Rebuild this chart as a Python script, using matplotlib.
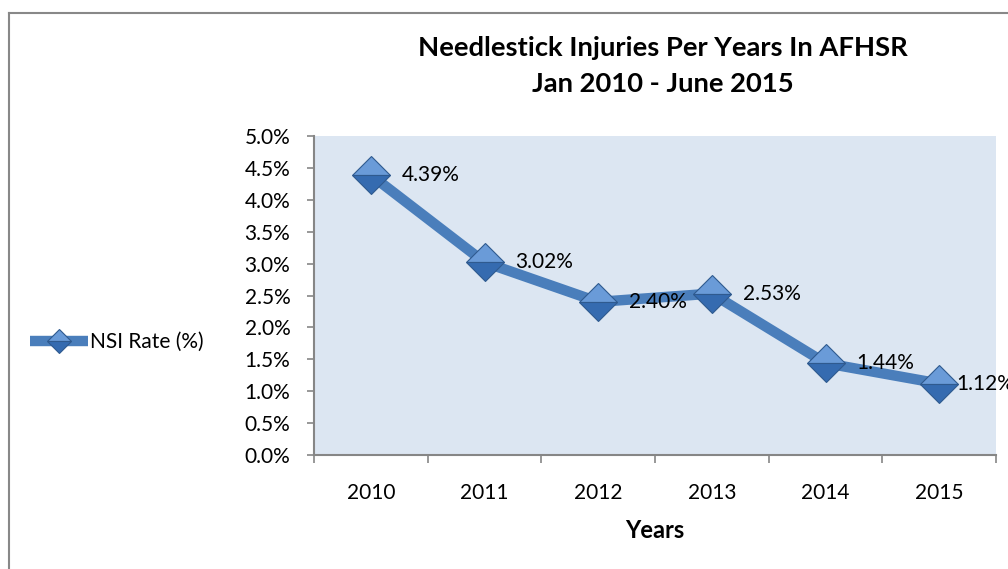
import matplotlib
matplotlib.use("Agg")
import matplotlib.pyplot as plt
from matplotlib.lines import Line2D
import numpy as np

plt.rcParams['font.family'] = ['Lato', 'DejaVu Sans']

years = ['2010', '2011', '2012', '2013', '2014', '2015']
nsi_rate = [4.39, 3.02, 2.40, 2.53, 1.44, 1.12]
series_name = 'NSI Rate (%)'

W, H = 1008, 569
fig = plt.figure(figsize=(W / 100, H / 100), dpi=100)
ax = fig.add_axes([314 / W, 1 - 455 / H, (996 - 314) / W, (455 - 136) / H])
ax.set_facecolor('#DCE6F2')

x = np.arange(len(years))
ax.plot(x, nsi_rate, color='#4A7EBB', lw=7.5, solid_capstyle='butt',
        marker='D', ms=19, fillstyle='top', markerfacecolor='#6A9BD8',
        markerfacecoloralt='#356BB0', markeredgecolor='#2F5A8F', mew=0.8,
        label=series_name, zorder=3)

# data labels right of each point (last one pushed in by the chart edge)
for i, v in enumerate(nsi_rate):
    off = 17 if i == len(nsi_rate) - 1 else 31
    ax.annotate(f'{v:.2f}%', (i, v), xytext=(off * 0.72, 0), textcoords='offset points',
                ha='left', va='center', fontsize=15, color='black', annotation_clip=False,
                zorder=4)

ax.set_xlim(-0.5, len(years) - 0.5)
ax.set_ylim(0, 5)
ax.set_yticks(np.arange(0, 5.01, 0.5))
ax.set_yticklabels([f'{t:.1f}%' for t in np.arange(0, 5.01, 0.5)])
ax.set_xticks(x)
ax.set_xticklabels(years)
ax.set_xticks(np.arange(-0.5, len(years)), minor=True)
ax.tick_params(axis='x', which='major', length=0, pad=20, labelsize=15)
ax.tick_params(axis='x', which='minor', length=6, width=1.2, color='#868686', direction='out')
ax.tick_params(axis='y', length=5, width=1.2, color='#868686', pad=12, labelsize=15)

for s in ['top', 'right']:
    ax.spines[s].set_visible(False)
for s in ['left', 'bottom']:
    ax.spines[s].set_color('#868686')
    ax.spines[s].set_linewidth(1.5)

ax.set_xlabel('Years', fontsize=17, fontweight='bold', labelpad=12)

fig.text(663 / W, 1 - 66.5 / H, 'Needlestick Injuries Per Years In AFHSR\nJan 2010 - June 2015',
         ha='center', va='center', fontsize=19.7, fontweight='bold', linespacing=1.6)

leg = ax.legend(loc='center left', bbox_to_anchor=(30 / W, 1 - 342 / H),
                bbox_transform=fig.transFigure, frameon=False, fontsize=15,
                handlelength=2.8, handletextpad=0.1, borderpad=0, borderaxespad=0,
                markerscale=0.65)

# outer chart border
fig.add_artist(Line2D([8.5 / W, 8.5 / W], [0, 1 - 12.5 / H], transform=fig.transFigure,
                      color='#888888', lw=1.5))
fig.add_artist(Line2D([8.5 / W, 1], [1 - 12.5 / H, 1 - 12.5 / H], transform=fig.transFigure,
                      color='#888888', lw=1.5))

fig.savefig('out.png', dpi=100)
